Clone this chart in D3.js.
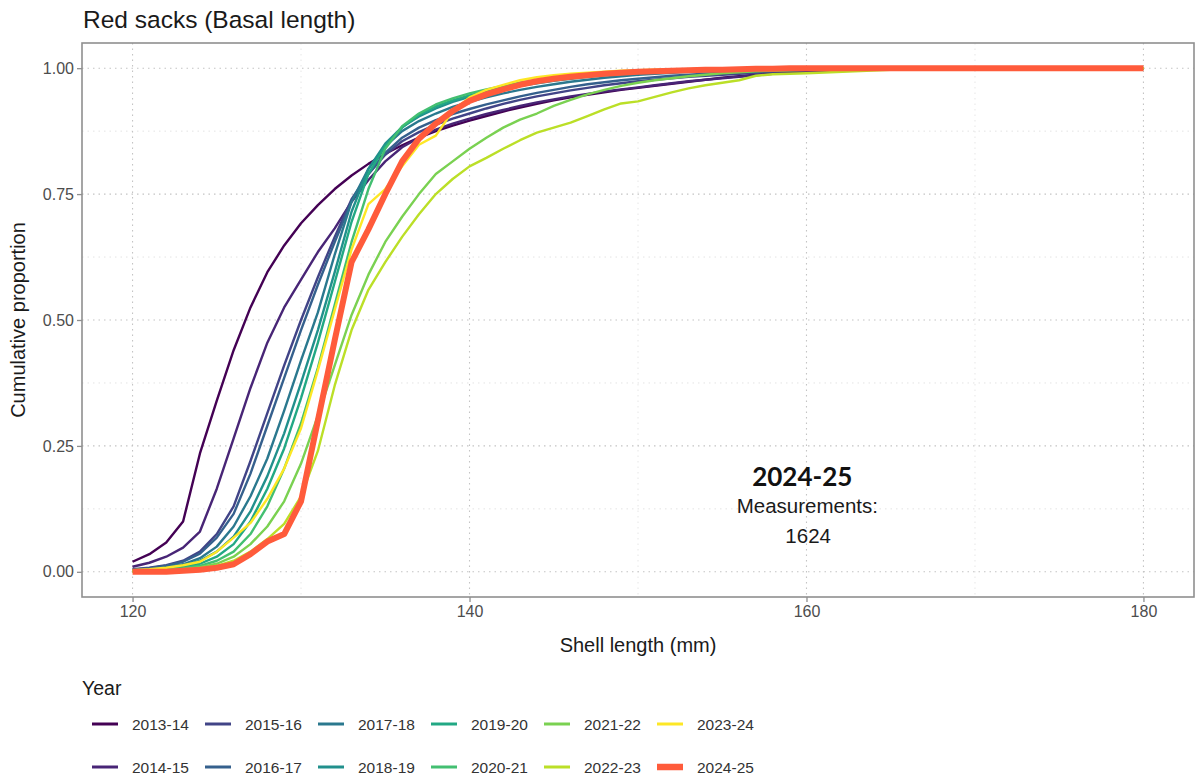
<!DOCTYPE html>
<html>
<head>
<meta charset="utf-8">
<script src="https://cdn.jsdelivr.net/npm/d3@7"></script>
<style>
  html, body { margin: 0; padding: 0; background: #ffffff; }
  svg { display: block; font-family: "Liberation Sans", Arial, Helvetica, sans-serif; }
</style>
</head>
<body>
<svg id="chart" width="1195" height="778"></svg>
<script>
// Shell lengths (mm) at which the cumulative proportions are evaluated
const lengths = [120,121,122,123,124,125,126,127,128,129,130,131,132,133,134,135,136,137,138,139,
                 140,141,142,143,144,145,146,147,148,149,150,151,152,153,154,155,156,157,158,159,
                 160,165,170,175,180];

const years = ["2013-14","2014-15","2015-16","2016-17","2017-18","2018-19",
               "2019-20","2020-21","2021-22","2022-23","2023-24","2024-25"];

// Cumulative proportion of shells at or below each length, one array per season
const cdf2013_14 = [.020,.035,.058,.100,.235,.340,.440,.525,.595,.648,.692,.728,.760,.787,.810,.830,.847,.862,.875,.886,
                    .896,.905,.914,.922,.929,.936,.942,.947,.952,.957,.961,.965,.969,.973,.977,.981,.984,.987,.990,.992,
                    .994,.999,1,1,1];
const cdf2014_15 = [.010,.018,.030,.048,.080,.165,.265,.365,.455,.525,.580,.635,.682,.735,.778,.815,.843,.862,.878,.890,
                    .900,.909,.917,.925,.932,.938,.944,.949,.954,.958,.962,.966,.970,.974,.977,.980,.983,.986,.989,.991,
                    .993,.999,1,1,1];
const cdf2015_16 = [.005,.008,.013,.022,.040,.075,.130,.220,.315,.410,.500,.585,.665,.740,.790,.828,.855,.873,.888,.900,
                    .910,.920,.929,.937,.944,.950,.956,.961,.966,.970,.974,.977,.980,.983,.985,.987,.989,.991,.993,.995,
                    .996,.999,1,1,1];
const cdf2016_17 = [.004,.007,.012,.020,.036,.068,.115,.195,.290,.385,.480,.570,.655,.735,.790,.832,.862,.882,.897,.909,
                    .919,.928,.936,.944,.951,.957,.963,.968,.972,.976,.979,.982,.985,.987,.989,.991,.993,.995,.996,.997,
                    .998,1,1,1,1];
const cdf2017_18 = [.003,.005,.009,.015,.027,.050,.090,.150,.225,.320,.420,.515,.630,.735,.800,.845,.875,.895,.910,.923,
                    .933,.942,.950,.957,.963,.968,.973,.977,.981,.984,.987,.989,.991,.993,.994,.995,.996,.997,.998,.999,
                    .999,1,1,1,1];
const cdf2018_19 = [.002,.004,.007,.012,.022,.040,.070,.120,.190,.275,.375,.480,.595,.715,.800,.850,.883,.904,.920,.933,
                    .943,.952,.959,.965,.970,.975,.979,.983,.986,.988,.990,.992,.993,.994,.995,.996,.997,.998,.999,.999,
                    1,1,1,1,1];
const cdf2019_20 = [.002,.003,.005,.009,.016,.030,.055,.100,.165,.245,.345,.455,.575,.695,.790,.845,.882,.907,.924,.936,
                    .946,.955,.962,.968,.973,.977,.981,.984,.987,.989,.991,.993,.994,.995,.996,.997,.998,.999,.999,1,
                    1,1,1,1,1];
const cdf2020_21 = [.001,.002,.004,.007,.012,.022,.040,.075,.130,.205,.295,.405,.530,.655,.760,.840,.885,.910,.928,.940,
                    .950,.958,.965,.971,.976,.980,.984,.987,.989,.991,.993,.994,.995,.996,.997,.998,.999,.999,1,1,
                    1,1,1,1,1];
const cdf2021_22 = [.001,.002,.003,.005,.009,.016,.030,.055,.090,.140,.215,.310,.410,.510,.590,.655,.705,.750,.790,.815,
                    .840,.862,.882,.898,.910,.925,.937,.948,.957,.965,.971,.976,.980,.984,.987,.990,.992,.994,.995,.996,
                    .997,.999,1,1,1];
const cdf2022_23 = [.000,.001,.002,.004,.007,.012,.022,.040,.065,.095,.150,.240,.370,.480,.560,.615,.665,.710,.750,.780,
                    .805,.822,.840,.857,.872,.882,.892,.905,.918,.930,.934,.943,.952,.960,.966,.971,.976,.985,.988,.989,
                    .990,.997,1,1,1];
const cdf2023_24 = [.003,.005,.008,.013,.020,.040,.068,.097,.145,.205,.285,.400,.520,.640,.730,.760,.805,.848,.866,.915,
                    .942,.957,.967,.976,.982,.986,.989,.991,.993,.995,.996,.997,.998,.998,.999,.999,1,1,1,1,
                    1,1,1,1,1];
const cdf2024_25 = [.000,.000,.000,.002,.004,.008,.015,.035,.060,.075,.140,.300,.460,.615,.680,.750,.815,.860,.890,.915,
                    .935,.948,.958,.967,.974,.979,.983,.986,.989,.991,.993,.994,.995,.996,.997,.997,.998,.999,.999,1,
                    1,1,1,1,1];

const seriesValues = [cdf2013_14, cdf2014_15, cdf2015_16, cdf2016_17, cdf2017_18, cdf2018_19,
                      cdf2019_20, cdf2020_21, cdf2021_22, cdf2022_23, cdf2023_24, cdf2024_25];

const xTicks = [120, 140, 160, 180];
const xMinor = [130, 150, 170];
const yTicks = [0, 0.25, 0.5, 0.75, 1];
const yMinor = [0.125, 0.375, 0.625, 0.875];

const highlightYear = "2024-25";
const highlightCount = 1624;

const palette = ["#440154","#482576","#414487","#35608D","#2A788E","#21908C",
                 "#22A884","#43BF71","#7AD151","#BBDF27","#FDE725","#FF5B3B"];

// ---- layout ----
const panel = { left: 82, right: 1194, top: 43, bottom: 597 };

const svg = d3.select("#chart");

const x = d3.scaleLinear().domain([117, 183]).range([panel.left, panel.right]);
const y = d3.scaleLinear().domain([-0.05, 1.05]).range([panel.bottom, panel.top]);

const data = years.map((yr, i) => ({
  year: yr,
  color: palette[i],
  width: yr === highlightYear ? 6 : 2.4,
  points: lengths.map((l, j) => ({ l, p: seriesValues[i][j] }))
}));

// ---- grid ----
const grid = svg.append("g");
grid.selectAll(".vminor").data(xMinor).join("line")
  .attr("x1", d => x(d)).attr("x2", d => x(d))
  .attr("y1", panel.top).attr("y2", panel.bottom)
  .attr("stroke", "#e6e6e6").attr("stroke-width", 1).attr("stroke-dasharray", "1.5,4");
grid.selectAll(".hminor").data(yMinor).join("line")
  .attr("x1", panel.left).attr("x2", panel.right)
  .attr("y1", d => y(d)).attr("y2", d => y(d))
  .attr("stroke", "#e3e3e3").attr("stroke-width", 1).attr("stroke-dasharray", "1.5,4");
grid.selectAll(".vmajor").data(xTicks).join("line")
  .attr("x1", d => x(d)).attr("x2", d => x(d))
  .attr("y1", panel.top).attr("y2", panel.bottom)
  .attr("stroke", "#c4c4c4").attr("stroke-width", 1.1).attr("stroke-dasharray", "1.5,4");
grid.selectAll(".hmajor").data(yTicks).join("line")
  .attr("x1", panel.left).attr("x2", panel.right)
  .attr("y1", d => y(d)).attr("y2", d => y(d))
  .attr("stroke", "#c4c4c4").attr("stroke-width", 1.1).attr("stroke-dasharray", "1.5,4");

// ---- curves ----
const line = d3.line().x(d => x(d.l)).y(d => y(d.p));
svg.append("g")
  .selectAll("path")
  .data(data)
  .join("path")
  .attr("d", d => line(d.points))
  .attr("fill", "none")
  .attr("stroke", d => d.color)
  .attr("stroke-width", d => d.width)
  .attr("stroke-linejoin", "round");

// ---- panel border ----
svg.append("rect")
  .attr("x", panel.left).attr("y", panel.top)
  .attr("width", panel.right - panel.left).attr("height", panel.bottom - panel.top)
  .attr("fill", "none").attr("stroke", "#8f8f8f").attr("stroke-width", 1.6);

// ---- axes ----
const xAxis = svg.append("g")
  .attr("transform", `translate(0,${panel.bottom})`)
  .call(d3.axisBottom(x).tickValues(xTicks).tickFormat(d3.format("d")).tickSize(5).tickPadding(4));
const yAxis = svg.append("g")
  .attr("transform", `translate(${panel.left},0)`)
  .call(d3.axisLeft(y).tickValues(yTicks).tickFormat(d3.format(".2f")).tickSize(5).tickPadding(3));
[xAxis, yAxis].forEach(g => {
  g.select(".domain").remove();
  g.selectAll(".tick line").attr("stroke", "#8f8f8f").attr("stroke-width", 1.3);
  g.selectAll(".tick text").attr("fill", "#4d4d4d")
    .style("font-size", "16px").style("font-family", "'Liberation Sans', Arial, sans-serif");
});

// ---- titles ----
svg.append("text").attr("x", 83).attr("y", 27.5)
  .attr("fill", "#1a1a1a").style("font-size", "24.5px")
  .text("Red sacks (Basal length)");

svg.append("text")
  .attr("transform", `translate(25,${(panel.top + panel.bottom) / 2}) rotate(-90)`)
  .attr("text-anchor", "middle").attr("fill", "#1a1a1a").style("font-size", "20px")
  .text("Cumulative proportion");

svg.append("text")
  .attr("x", (panel.left + panel.right) / 2).attr("y", 652)
  .attr("text-anchor", "middle").attr("fill", "#1a1a1a").style("font-size", "20px")
  .text("Shell length (mm)");

// ---- annotation for the latest season ----
const ann = svg.append("g").attr("text-anchor", "middle").attr("fill", "#111");
ann.append("text").attr("x", x(159.75)).attr("y", y(0.17))
  .style("font-family", "Lato, 'Open Sans', sans-serif").style("font-weight", "bold").style("font-size", "26px")
  .text(highlightYear);
ann.append("text").attr("x", x(160.05)).attr("y", y(0.117))
  .style("font-size", "20.5px").attr("fill", "#1a1a1a")
  .text("Measurements:");
ann.append("text").attr("x", x(160.1)).attr("y", y(0.057))
  .style("font-size", "20.5px").attr("fill", "#1a1a1a")
  .text(highlightCount);

// ---- legend ----
const legend = svg.append("g");
legend.append("text").attr("x", 82).attr("y", 695)
  .attr("fill", "#1a1a1a").style("font-size", "19.5px").text("Year");

const colW = 113, keyX0 = 92, keyLen = 26, rowY = [724, 767];
const items = legend.selectAll(".item").data(data).join("g")
  .attr("transform", (d, i) => `translate(${keyX0 + Math.floor(i / 2) * colW},${rowY[i % 2]})`);
items.append("line")
  .attr("x1", 0).attr("x2", keyLen).attr("y1", 0).attr("y2", 0)
  .attr("stroke", d => d.color)
  .attr("stroke-width", d => d.year === highlightYear ? 6.5 : 3);
items.append("text")
  .attr("x", keyLen + 14).attr("y", 5.5)
  .attr("fill", "#333").style("font-size", "15.5px")
  .text(d => d.year);
</script>
</body>
</html>
